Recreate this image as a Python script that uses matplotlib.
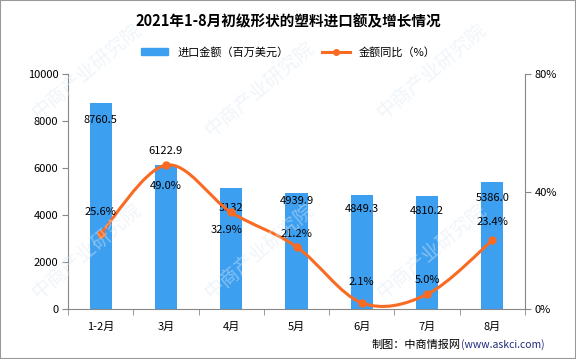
import matplotlib.pyplot as plt
import numpy as np
from matplotlib.path import Path
from matplotlib.patches import PathPatch, Rectangle
from matplotlib.lines import Line2D

plt.rcParams['font.family'] = ['Noto Sans CJK SC', 'DejaVu Sans']

months = ['1-2月', '3月', '4月', '5月', '6月', '7月', '8月']
amount = [8760.5, 6122.9, 5132, 4939.9, 4849.3, 4810.2, 5386.0]
amount_labels = ['8760.5', '6122.9', '5132', '4939.9', '4849.3', '4810.2', '5386.0']
growth = [25.6, 49.0, 32.9, 21.2, 2.1, 5.0, 23.4]

bar_color = '#3d9ff0'
line_color = '#f96a22'

fig = plt.figure(figsize=(5.76, 3.59), dpi=100)
ax = fig.add_axes([68 / 576, 50 / 359, (525 - 68) / 576, (309 - 74) / 359])
ax2 = ax.twinx()

x = np.arange(len(months))
ax.bar(x, amount, width=0.34, color=bar_color, zorder=2)
ax.set_xlim(-0.5, len(months) - 0.5)
ax.set_ylim(0, 10000)
ax.set_yticks(range(0, 10001, 2000))
ax.set_xticks(x)
ax.set_xticklabels(months)
ax.set_xticks(np.arange(-0.5, len(months)), minor=True)
ax.tick_params(axis='x', which='major', length=0, pad=9, labelsize=8)
ax.tick_params(axis='x', which='minor', length=4, color='#888888')
ax.tick_params(axis='y', length=4, color='#888888', labelsize=8, pad=3)

ax2.set_ylim(0, 80)
ax2.set_yticks([0, 40, 80])
ax2.set_yticklabels(['0%', '40%', '80%'])
ax2.tick_params(axis='y', length=4, color='#888888', labelsize=8, pad=3)

for a in (ax, ax2):
    a.spines['top'].set_visible(False)
    for s in ['left', 'right', 'bottom']:
        a.spines[s].set_color('#888888')
ax.spines['right'].set_visible(False)
ax2.spines['left'].set_visible(False)
ax2.spines['bottom'].set_visible(False)

# smooth line through the points (Catmull-Rom drawn as Bezier segments)
pts = np.column_stack([x, growth]).astype(float)
verts = [tuple(pts[0])]
codes = [Path.MOVETO]
n = len(pts)
for i in range(n - 1):
    p0 = pts[i - 1] if i > 0 else pts[i]
    p1 = pts[i]
    p2 = pts[i + 1]
    p3 = pts[i + 2] if i + 2 < n else pts[i + 1]
    c1 = p1 + (p2 - p0) / 6.0
    c2 = p2 - (p3 - p1) / 6.0
    verts += [tuple(c1), tuple(c2), tuple(p2)]
    codes += [Path.CURVE4] * 3
ax2.add_patch(PathPatch(Path(verts, codes), facecolor='none', edgecolor=line_color,
                        lw=2.2, zorder=3, clip_on=False))
ax2.plot(x, growth, 'o', color=line_color, ms=5, zorder=4)

# labels
bar_offsets = [(0, -12), (0, 10), (0, -14), (0, -6), (0, -10), (0, -11), (0, -11)]
for i, (v, lab) in enumerate(zip(amount, amount_labels)):
    ax.annotate(lab, (x[i], v), xytext=bar_offsets[i], textcoords='offset points',
                ha='center', va='center', fontsize=8, zorder=5)
line_offsets = [(0, 16), (0, -15), (-3, -13), (0, 9), (0, 15), (0, 10), (0, 13)]
for i, v in enumerate(growth):
    ax2.annotate(f'{v:.1f}%', (x[i], v), xytext=line_offsets[i], textcoords='offset points',
                 ha='center', va='center', fontsize=8, zorder=5)

# title and legend
fig.text(0.5, 1 - 21 / 359, '2021年1-8月初级形状的塑料进口额及增长情况', ha='center', va='center',
         fontsize=10.5, fontweight='bold')
handles = [Rectangle((0, 0), 1, 1, color=bar_color),
           Line2D([0], [0], color=line_color, lw=2.2, marker='o', ms=4)]
fig.legend(handles, ['进口金额（百万美元）', '金额同比（%）'], loc='center',
           bbox_to_anchor=(0.5, 1 - 52 / 359), ncol=2, frameon=False, fontsize=8,
           handlelength=2.5, columnspacing=3, handleheight=0.5)

fig.text(0.80, 1 - 345 / 359, '制图：中商情报网', ha='right', va='center', fontsize=8)
fig.text(0.80, 1 - 345 / 359, '(www.askci.com)', ha='left', va='center', fontsize=7.5,
         color='#1f2a7a')

# faint watermark
for wx, wy in [(0.15, 0.8), (0.45, 0.75), (0.75, 0.8), (0.15, 0.3), (0.45, 0.3), (0.75, 0.3)]:
    fig.text(wx, wy, '中商产业研究院', rotation=40, fontsize=14, color='#dde9f3', alpha=0.45,
             ha='center', va='center', zorder=0)

fig.add_artist(Rectangle((0, 0), 1, 1, transform=fig.transFigure, fill=False,
                         edgecolor='#999999', lw=1.5))

fig.savefig('out.png', dpi=100)
